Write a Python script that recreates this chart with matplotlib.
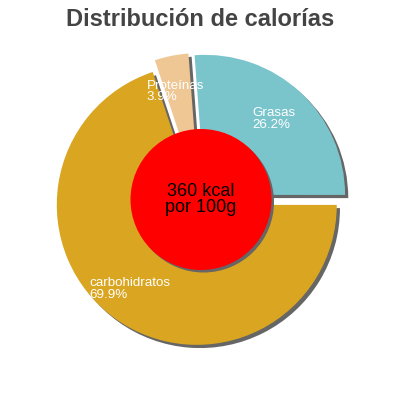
import matplotlib
matplotlib.use("Agg")
import matplotlib.pyplot as plt
from matplotlib.patches import Circle

# ---- data ----
categories = ["Grasas", "carbohidratos", "Proteínas"]
percentages = [26.2, 69.9, 3.9]
colors = ["#7ac4cc", "#daa520", "#efc794"]
total_kcal = "360 kcal"
per_unit = "por 100g"
title = "Distribución de calorías"

# ---- layout (pixel-like data coords, y up) ----
W = H = 400
cx, cy = 200.3, 400 - 200
R = 140
explode = [7, 6, 7]   # offsets in data (pixel) units
shadow_off = 3.2
start = 94.3

plt.rcParams['font.family'] = ['Liberation Sans', 'DejaVu Sans']
fig = plt.figure(figsize=(4, 4), dpi=100)
ax = fig.add_axes([0, 0, 1, 1])

# shadows
ax.pie(percentages, colors=["#666666"] * 3, center=(cx + shadow_off, cy - shadow_off),
       radius=R, startangle=start, counterclock=False, explode=explode,
       wedgeprops=dict(linewidth=0), normalize=True)
# slices
ax.pie(percentages, colors=colors, center=(cx, cy), radius=R, startangle=start,
       counterclock=False, explode=explode, wedgeprops=dict(linewidth=0), normalize=True)

# center disc
rc_x, rc_y, rr = 201, 400 - 199.5, 70.5
ax.add_patch(Circle((rc_x + 2.5, rc_y - 2.5), rr, facecolor="#666666", edgecolor="none", zorder=5))
ax.add_patch(Circle((rc_x, rc_y), rr, facecolor="#ff0000", edgecolor="none", zorder=6))
ax.text(rc_x, rc_y, f"{total_kcal}\n{per_unit}", ha="center", va="center",
        fontsize=13, color="black", linespacing=0.95, zorder=7)

# slice labels
label_pos = {"Grasas": (252.5, 400 - 116.5), "carbohidratos": (89.5, 400 - 286.5),
             "Proteínas": (146.5, 400 - 89)}
for cat, pct in zip(categories, percentages):
    x, y = label_pos[cat]
    ax.text(x, y, cat, ha="left", va="baseline", fontsize=9.6, color="white", zorder=8)
    ax.text(x, y - 11.5, f"{pct:.1f}%", ha="left", va="baseline", fontsize=9.6,
            color="white", zorder=8)

fig.text(0.5, 1 - 26 / 400, title, ha="center", va="baseline", fontsize=17,
         fontweight="bold", color="#444444")

ax.set_xlim(0, W)
ax.set_ylim(0, H)
ax.set_aspect("equal")
ax.axis("off")
fig.savefig("out.png", dpi=100, facecolor="white")
